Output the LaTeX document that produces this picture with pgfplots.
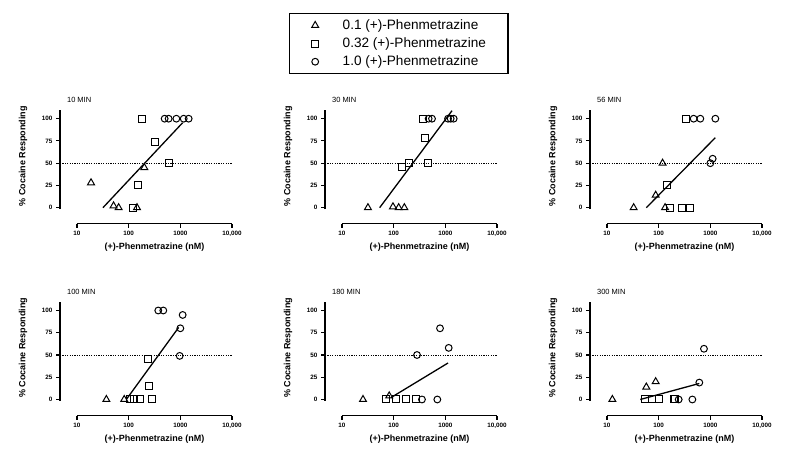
\documentclass[border=0pt]{standalone}
\usepackage{pgfplots}
\pgfplotsset{compat=1.18}
\usepackage{fontspec}
\setmainfont{Liberation Sans}
\pgfplotsset{every axis/.append style={
  scale only axis, width=172pt, height=113.9pt,
  xmin=4.69, xmax=10000, ymin=-18, ymax=110,
  axis x line*=bottom, axis y line*=left,
  axis line style={black, line width=1.2pt},
  x axis line style={shorten <=17pt},
  y axis line style={shorten <=15.2pt},
  xtick={10,100,1000,10000}, xticklabels={10,100,1000,{10,000}},
  ytick={0,25,50,75,100}, yticklabels={0,25,50,75,100},
  xminorticks=false, yminorticks=false,
  tick align=outside, major tick length=4pt,
  tick style={black, line width=1.1pt},
  tick label style={font=\bfseries\fontsize{6.3}{7}\selectfont},
  xlabel={(+)-Phenmetrazine (nM)}, ylabel={\% Cocaine Responding},
  label style={font=\bfseries\fontsize{9}{10}\selectfont},
  xlabel style={at={(axis description cs:0.549,-0.205)}, anchor=center},
  ylabel style={at={(axis description cs:-0.215,0.594)}, anchor=center},
  clip=false,
 }}
\tikzset{
 mytri/.style={only marks, mark=triangle, mark size=4pt, mark options={line width=1pt, draw=black, fill=none}},
 mysq/.style={only marks, mark=square, mark size=3.5pt, mark options={line width=1pt, draw=black, fill=none}},
 mycirc/.style={only marks, mark=o, mark size=3.4pt, mark options={line width=1pt, draw=black, fill=none}},
 myreg/.style={black, line width=1.3pt},
 myhalf/.style={black, line width=0.8pt, dash pattern=on 1.2pt off 1.2pt},
}
\newcommand{\paneltitle}[1]{\node[anchor=west, font=\fontsize{7.5}{9}\selectfont, inner sep=0pt] at (axis description cs:0.04,1.086) {#1};}
\newcommand{\axcoords}[1]{%
 \coordinate (#1xa) at (axis cs:10,-18);
 \coordinate (#1xb) at (axis cs:10000,-18);
 \coordinate (#1ya) at (axis cs:4.69,-1.5);
 \coordinate (#1yb) at (axis cs:4.69,110);
 \coordinate (#1tb) at (axis cs:100,-18);
 \coordinate (#1tc) at (axis cs:1000,-18);}
\newcommand{\axdraw}[1]{%
 \draw[black, line width=1.2pt] (#1xa) -- (#1xb);
 \draw[black, line width=1.2pt] (#1ya) -- (#1yb);
 \fill[black] ([yshift=-0.6pt]#1xa) rectangle ([yshift=0.6pt]#1xb);
 \fill[black] ([xshift=-0.6pt]#1ya) rectangle ([xshift=0.6pt]#1yb);
 \foreach \t in {xa,tb,tc,xb} {\fill[black] ([xshift=-0.55pt]#1\t) rectangle ([xshift=0.55pt,yshift=-4pt]#1\t);}}
\begin{document}
\begin{tikzpicture}
\path (0pt,0pt) rectangle (800pt,464pt);
% 10 MIN
\begin{semilogxaxis}[at={(60pt,240.3pt)}, anchor=south west,
  legend cell align=left,
  legend style={at={(axis description cs:1.331,1.850)}, anchor=north west, draw=black, line width=1.5pt,
   font=\fontsize{13.6}{16}\selectfont, inner xsep=22pt, inner ysep=6pt, row sep=6.8pt, column sep=24pt,
   nodes={inner sep=0pt}},
  legend image code/.code={\draw[#1] plot coordinates {(0pt,0pt)};}]
\addplot[mytri] coordinates {(18.7,28) (51,2) (64,0) (145,0) (201,45)};
\addplot[mysq] coordinates {(181,100) (328,74) (594,50) (149,26) (119,0)};
\addplot[mycirc] coordinates {(497,100) (594,100) (837,100) (1161,100) (1449,100)};
\legend{0.1 (+)-Phenmetrazine, 0.32 (+)-Phenmetrazine, 1.0 (+)-Phenmetrazine}
\addplot[myreg] coordinates {(31.8,0) (1109,95.5)};
\addplot[myhalf] coordinates {(4.69,50) (10000,50)};
\paneltitle{10 MIN}
\axcoords{pa}
\end{semilogxaxis}
\axdraw{pa}
% 30 MIN
\begin{semilogxaxis}[at={(325pt,240.3pt)}, anchor=south west]
\addplot[mytri] coordinates {(31.8,0) (97,1) (125,0) (161,0)};
\addplot[mysq] coordinates {(145,46) (195,50) (370,100) (398,78) (455,50)};
\addplot[mycirc] coordinates {(475,100) (552,100) (1127,100) (1268,100) (1449,100)};
\addplot[myreg] coordinates {(53.6,0) (1346,109)};
\addplot[myhalf] coordinates {(4.69,50) (10000,50)};
\paneltitle{30 MIN}
\axcoords{pb}
\end{semilogxaxis}
\axdraw{pb}
% 56 MIN
\begin{semilogxaxis}[at={(590pt,240.3pt)}, anchor=south west]
\addplot[mytri] coordinates {(32.8,0) (87.5,14) (119,50) (133,0)};
\addplot[mysq] coordinates {(343,100) (145,25) (168,0) (283,0) (410,0)};
\addplot[mycirc] coordinates {(475,100) (640,100) (1250,100) (1000,50) (1109,55)};
\addplot[myreg] coordinates {(57.7,0) (1250,78.7)};
\addplot[myhalf] coordinates {(4.69,50) (10000,50)};
\paneltitle{56 MIN}
\axcoords{pc}
\end{semilogxaxis}
\axdraw{pc}
% 100 MIN
\begin{semilogxaxis}[at={(60pt,48.5pt)}, anchor=south west]
\addplot[mytri] coordinates {(37,0) (82,0)};
\addplot[mysq] coordinates {(104,1) (125,0) (163,0) (283,0) (251,15) (240,45)};
\addplot[mycirc] coordinates {(374,100) (468,100) (1109,95) (1000,80) (971,49)};
\addplot[myreg] coordinates {(90,0) (929,81)};
\addplot[myhalf] coordinates {(4.69,50) (10000,50)};
\paneltitle{100 MIN}
\axcoords{pd}
\end{semilogxaxis}
\axdraw{pd}
% 180 MIN
\begin{semilogxaxis}[at={(325pt,48.5pt)}, anchor=south west]
\addplot[mytri] coordinates {(25.5,0) (82,4)};
\addplot[mysq] coordinates {(71,0) (111,0) (176,0) (271,0)};
\addplot[mycirc] coordinates {(353,0) (700,0) (283,50) (789,80) (1161,58)};
\addplot[myreg] coordinates {(88,2) (1127,41)};
\addplot[myhalf] coordinates {(4.69,50) (10000,50)};
\paneltitle{180 MIN}
\axcoords{pe}
\end{semilogxaxis}
\axdraw{pe}
% 300 MIN
\begin{semilogxaxis}[at={(590pt,48.5pt)}, anchor=south west]
\addplot[mytri] coordinates {(12.7,0) (57.7,14) (87.5,20)};
\addplot[mysq] coordinates {(55,0) (74,0) (100,0) (195,0) (209,0)};
\addplot[mycirc] coordinates {(244,0) (449,0) (612,19) (753,57)};
\addplot[myreg] coordinates {(44,0) (612,18)};
\addplot[myhalf] coordinates {(4.69,50) (10000,50)};
\paneltitle{300 MIN}
\axcoords{pf}
\end{semilogxaxis}
\axdraw{pf}
\end{tikzpicture}
\end{document}
